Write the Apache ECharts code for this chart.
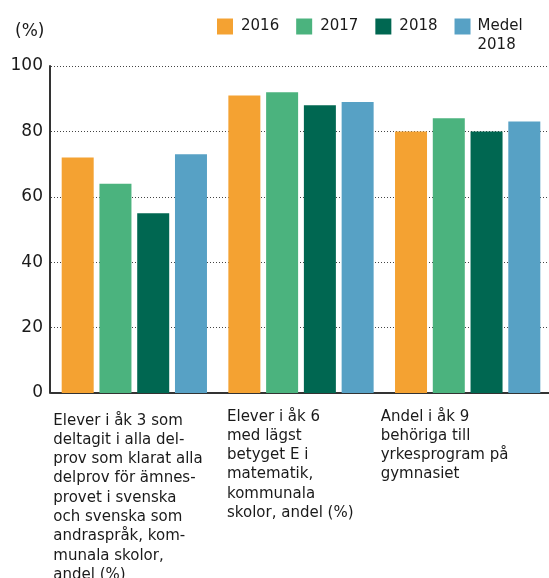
<!DOCTYPE html>
<html>
<head>
<meta charset="utf-8">
<script src="https://cdn.jsdelivr.net/npm/echarts@6/dist/echarts.min.js"></script>
<style>
  html, body { margin: 0; padding: 0; background: #fff; }
  #chart { width: 549px; height: 578px; }
</style>
</head>
<body>
<div id="chart"></div>
<script>
// kategorier (radbrytningar som i originalet)
const categories = [
  "Elever i åk 3 som\ndeltagit i alla del-\nprov som klarat alla\ndelprov för ämnes-\nprovet i svenska\noch svenska som\nandraspråk, kom-\nmunala skolor,\nandel (%)",
  "Elever i åk 6\nmed lägst\nbetyget E i\nmatematik,\nkommunala\nskolor, andel (%)",
  "Andel i åk 9\nbehöriga till\nyrkesprogram på\ngymnasiet"
];

const seriesNames = ["2016", "2017", "2018", "Medel\n2018"];
const v2016 = [72, 91, 80];
const v2017 = [64, 92, 84];
const v2018 = [55, 88, 80];
const medel2018 = [73, 89, 83];

const yTicks = [0, 20, 40, 60, 80, 100];

const colors = ["#F4A232", "#4BB37E", "#006751", "#57A1C5"];
const FONT = "DejaVu Sans";

// label-förskjutning per kategori (vänsterjusterad text)
const labelPad = [[4, 0, 0, -81], [0, 0, 0, -74], [0, 0, 0, -87]];

const chart = echarts.init(document.getElementById("chart"));

function bar(name, data, color) {
  return {
    name: name,
    type: "bar",
    data: data,
    barWidth: 32,
    barGap: "18%",
    itemStyle: { color: color },
    emphasis: { disabled: true }
  };
}

const option = {
  animation: false,
  title: {
    text: "(%)",
    left: 10,
    top: 18,
    textStyle: { fontFamily: FONT, fontSize: 17, fontWeight: "normal", color: "#1a1a1a" }
  },
  legend: {
    left: 217,
    top: -2,
    padding: 0,
    itemWidth: 16,
    itemHeight: 16,
    itemGap: 17,
    icon: "rect",
    // tom första rad så att "Medel" hamnar i höjd med rutan
    formatter: (name) => (name === seriesNames[3] ? "\n" + name : name),
    textStyle: { fontFamily: FONT, fontSize: 15, color: "#1a1a1a", lineHeight: 19, padding: [0, 0, 0, 3] },
    data: seriesNames.map((n, i) => (i === 3 ? { name: n, textStyle: { padding: [0, 0, 0, 2] } } : { name: n }))
  },
  grid: { left: 51, right: -2, top: 66, bottom: 185, containLabel: false, outerBoundsMode: "none" },
  xAxis: {
    type: "category",
    data: categories.map((c, i) => ({
      value: c,
      textStyle: { align: "left", verticalAlign: "top", padding: labelPad[i] }
    })),
    axisLine: { lineStyle: { color: "#333", width: 2 } },
    axisTick: { show: false },
    axisLabel: {
      interval: 0,
      align: "left",
      verticalAlign: "top",
      margin: 14,
      fontFamily: FONT,
      fontSize: 15,
      lineHeight: 19.3,
      color: "#1a1a1a"
    }
  },
  yAxis: {
    type: "value",
    min: yTicks[0],
    max: yTicks[yTicks.length - 1],
    interval: 20,
    offset: 1,
    axisLine: { show: true, lineStyle: { color: "#333", width: 2 } },
    axisTick: { show: false },
    axisLabel: { fontFamily: FONT, fontSize: 17, color: "#1a1a1a", margin: 7 },
    splitLine: { lineStyle: { color: "#444", type: [1, 2], width: 1 } }
  },
  series: [
    bar(seriesNames[0], v2016, colors[0]),
    bar(seriesNames[1], v2017, colors[1]),
    bar(seriesNames[2], v2018, colors[2]),
    bar(seriesNames[3], medel2018, colors[3])
  ]
};

chart.setOption(option);
</script>
</body>
</html>
